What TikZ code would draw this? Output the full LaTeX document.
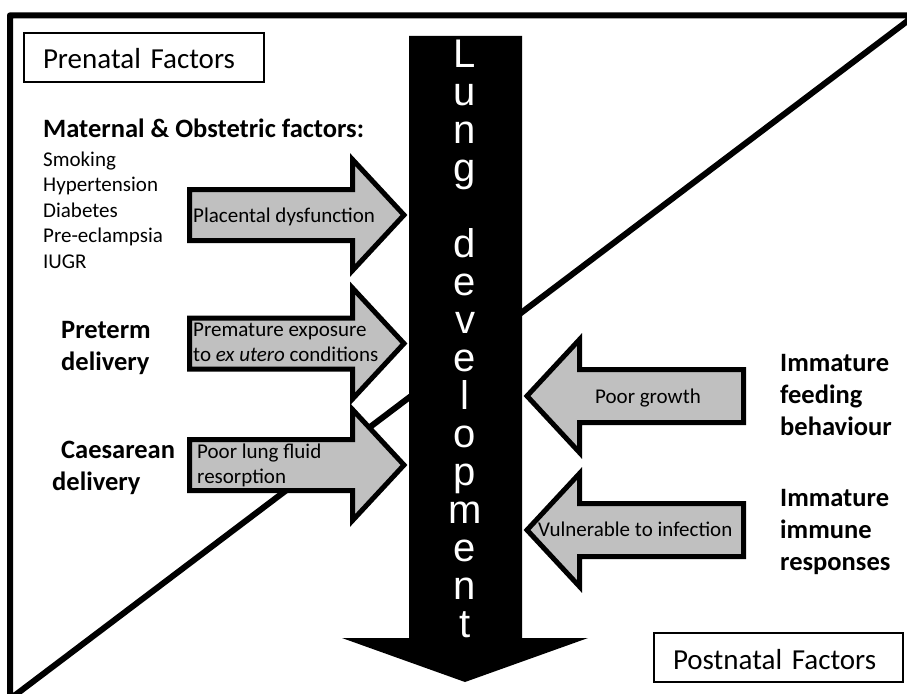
\documentclass[tikz,border=0pt]{standalone}
\usepackage{fontspec}
\setmainfont{Carlito}
\newfontfamily\lungfont{Liberation Sans}
\usepackage{xcolor}
\definecolor{arrowgray}{RGB}{192,192,192}
\tikzstyle{frameline} = [draw=black, line width=6pt, line join=round]
\tikzstyle{factorbox} = [draw=black, line width=1.8pt, rectangle, anchor=north west,
    outer sep=0pt, inner xsep=19pt, inner ysep=0pt, text height=36pt, text depth=13pt,
    align=left, font=\fontsize{29}{35}\selectfont]
\tikzstyle{fatarrow} = [draw=black, fill=arrowgray, line width=5pt, line join=miter]
\tikzstyle{arrowtext} = [anchor=base west, inner sep=0pt, align=left,
    font=\fontsize{21}{25.5}\selectfont]
\tikzstyle{causetitle} = [anchor=base west, inner sep=0pt, align=left,
    font=\bfseries\fontsize{26.5}{32}\selectfont]
\tikzstyle{lungletter} = [anchor=base, inner sep=0pt, text=white,
    font=\lungfont\fontsize{40}{40}\selectfont]

\begin{document}
\begin{tikzpicture}[x=1pt, y=-1pt]
\clip (0,0) rectangle (907,693);
\draw[frameline] (915,15.3) -- (10,15.3) -- (10,699) -- cycle;

\node[factorbox, text width=202pt] (prenatal) at (24,33) {Prenatal Factors};
\node[factorbox, text width=211pt] (postnatal) at (654,633) {Postnatal Factors};

\foreach \y in {215,343.5,465}
  \draw[fatarrow] (189.5,\y-25.5) -- (352.5,\y-25.5) -- (352.5,\y-55.5) -- (404,\y)
    -- (352.5,\y+55.5) -- (352.5,\y+25.5) -- (189.5,\y+25.5) -- cycle;
\foreach \y in {396,530}
  \draw[fatarrow] (743.5,\y-26.5) -- (579.5,\y-26.5) -- (579.5,\y-56.5) -- (527,\y)
    -- (579.5,\y+56.5) -- (579.5,\y+26.5) -- (743.5,\y+26.5) -- cycle;

\fill[black] (409,36) -- (522,36) -- (522,638) -- (588,638) -- (465,682)
    -- (342,638) -- (409,638) -- cycle;
\foreach \ch [count=\i from 0] in {L,u,n,g}
  \node[lungletter] (lung\i) at (465,67+38*\i) {\ch};
\foreach \ch [count=\i from 5] in {d,e,v,e,l,o,p,m,e,n,t}
  \node[lungletter] (lung\i) at (465,67+38*\i) {\ch};

% multi-line labels sit on the baseline of their last line
\node[causetitle] (maternal) at (43,137) {Maternal \& Obstetric factors:};
\node[arrowtext] (risks) at (43,268) {Smoking\\Hypertension\\Diabetes\\Pre-eclampsia\\IUGR};
\node[causetitle] (preterm) at (61,370) {Preterm\\delivery};
\node[causetitle] (caesarean) at (61,490) {Caesarean\\\hspace*{-9pt}delivery};
\node[causetitle] (feeding) at (780,435) {Immature\\feeding\\behaviour};
\node[causetitle] (immune) at (780,570) {Immature\\immune\\responses};

\node[arrowtext] (placental) at (193,222) {Placental dysfunction};
\node[arrowtext] (exposure) at (193,361.5) {Premature exposure\\to \textit{ex utero} conditions};
\node[arrowtext] (fluid) at (197,483.5) {Poor lung fluid\\resorption};
\node[arrowtext] (growth) at (595,403) {Poor growth};
\node[arrowtext] (infection) at (538,536) {Vulnerable to infection};
\end{tikzpicture}
\end{document}
